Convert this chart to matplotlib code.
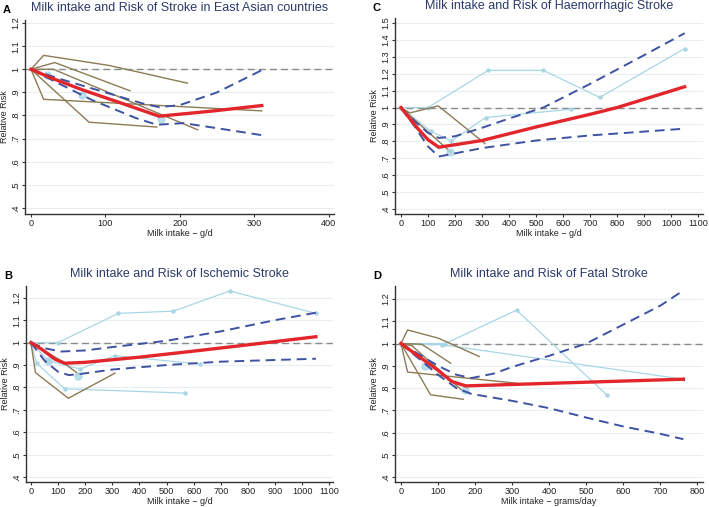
import matplotlib
matplotlib.use('Agg')
import matplotlib.pyplot as plt
import numpy as np

plt.rcParams['font.family'] = ['Liberation Sans', 'DejaVu Sans']

RED = '#e3262b'
NAVY = '#3d52a1'
BROWN = '#8c7b55'
LBLUE = '#a9d6e5'
TITLE = '#2b3a6b'
W, H = 709, 507

# ---- panel A: East Asian countries ----
a_fit_x = [0, 25, 70, 120, 172, 240, 310]
a_fit_y = [1.0, 0.965, 0.91, 0.855, 0.797, 0.818, 0.843]
a_up_x = [0, 37, 104, 150, 172, 200, 250, 310]
a_up_y = [1.0, 0.96, 0.896, 0.852, 0.836, 0.845, 0.9, 0.996]
a_lo_x = [0, 37, 82, 140, 169, 205, 250, 310]
a_lo_y = [1.0, 0.939, 0.867, 0.79, 0.76, 0.767, 0.745, 0.715]
a_studies = [
    ([0, 17, 104, 210], [1.0, 1.06, 1.017, 0.94]),
    ([0, 32, 133], [1.0, 1.029, 0.907]),
    ([0, 17, 310], [1.0, 0.87, 0.82]),
    ([0, 78, 169], [1.0, 0.771, 0.75]),
    ([0, 30, 224], [1.0, 1.0, 0.738]),
]
a_pts_x = [21, 69, 174]
a_pts_y = [0.974, 0.888, 0.785]

# ---- panel B: ischemic stroke ----
b_fit_x = [0, 40, 90, 125, 200, 400, 600, 800, 1050]
b_fit_y = [1.0, 0.97, 0.925, 0.908, 0.912, 0.935, 0.962, 0.99, 1.026]
b_up_x = [0, 50, 110, 200, 300, 500, 700, 900, 1050]
b_up_y = [1.0, 0.975, 0.96, 0.965, 0.98, 1.008, 1.05, 1.1, 1.133]
b_lo_x = [0, 50, 100, 140, 200, 300, 500, 700, 1050]
b_lo_y = [1.0, 0.92, 0.87, 0.855, 0.863, 0.88, 0.9, 0.915, 0.928]
b_studies = [
    ([0, 17, 138, 310], [1.0, 0.866, 0.752, 0.864]),
    ([0, 110, 175], [1.0, 0.92, 0.86]),
]
b_light = [
    ([0, 100, 322, 525, 733, 1050], [1.0, 1.0, 1.13, 1.14, 1.23, 1.13]),
    ([0, 64, 181, 310, 623], [1.0, 0.919, 0.882, 0.942, 0.904]),
    ([0, 21, 125, 568], [1.0, 0.908, 0.794, 0.775]),
]
b_pts_x = [64, 174]
b_pts_y = [0.919, 0.853]

# ---- panel C: haemorrhagic stroke ----
c_fit_x = [0, 30, 60, 100, 140, 300, 500, 700, 800, 1050]
c_fit_y = [1.0, 0.94, 0.88, 0.81, 0.765, 0.805, 0.885, 0.96, 1.0, 1.123]
c_up_x = [0, 50, 100, 140, 200, 300, 400, 527, 700, 900, 1050]
c_up_y = [1.0, 0.92, 0.85, 0.82, 0.83, 0.88, 0.935, 1.0, 1.14, 1.31, 1.44]
c_lo_x = [0, 50, 100, 140, 300, 500, 700, 1050]
c_lo_y = [1.0, 0.89, 0.77, 0.71, 0.76, 0.805, 0.835, 0.875]
c_studies = [
    ([0, 33, 138, 311], [1.0, 0.968, 1.01, 0.787]),
    ([0, 185], [1.0, 0.735]),
]
c_light = [
    ([0, 100, 323, 527, 736, 1050], [1.0, 1.0, 1.22, 1.22, 1.06, 1.349]),
    ([0, 110, 187, 313, 629], [1.0, 0.86, 0.802, 0.941, 0.99]),
]
c_pts_x = [181]
c_pts_y = [0.737]

# ---- panel D: fatal stroke ----
d_fit_x = [0, 50, 100, 137, 175, 762]
d_fit_y = [1.0, 0.94, 0.88, 0.83, 0.81, 0.84]
d_up_x = [0, 50, 100, 150, 190, 250, 300, 400, 500, 600, 700, 762]
d_up_y = [1.0, 0.95, 0.9, 0.86, 0.845, 0.865, 0.895, 0.945, 1.0, 1.085, 1.17, 1.238]
d_lo_x = [0, 50, 100, 150, 190, 300, 400, 500, 600, 700, 762]
d_lo_y = [1.0, 0.93, 0.86, 0.8, 0.774, 0.743, 0.71, 0.668, 0.628, 0.595, 0.571]
d_studies = [
    ([0, 18, 101, 211], [1.0, 1.061, 1.024, 0.942]),
    ([0, 56, 134], [1.0, 0.997, 0.912]),
    ([0, 18, 312], [1.0, 0.872, 0.822]),
    ([0, 80, 168], [1.0, 0.77, 0.75]),
    ([0, 30, 168], [1.0, 0.99, 0.785]),
]
d_light = [
    ([0, 120, 312, 555], [1.0, 1.0, 1.15, 0.77]),
    ([0, 110, 762], [1.0, 0.995, 0.84]),
]
d_pts_x = [65, 173]
d_pts_y = [0.897, 0.79]

fig = plt.figure(figsize=(7.09, 5.07), dpi=100)


def panel(box, letter, title, xlabel, xlim, ylim, xticks, yticks,
          fit, up, lo, studies, light, pts):
    # box = left, top, right, bottom in pixels
    l, t, r, b = box
    ax = fig.add_axes([l / W, 1 - b / H, (r - l) / W, (b - t) / H])
    for yt in yticks:
        ax.axhline(yt, color='#e8eef2', lw=0.8, zorder=0)
    ax.axhline(1.0, color='#8a8a8a', lw=1.0, ls=(0, (5, 3)), zorder=1)
    for sx, sy in light:
        ax.plot(sx, sy, color=LBLUE, lw=0.9, marker='o', ms=2.2, zorder=2)
    for sx, sy in studies:
        ax.plot(sx, sy, color=BROWN, lw=1.0, zorder=2)
    ax.plot(pts[0], pts[1], 'o', color=LBLUE, ms=5, alpha=0.8, zorder=2)
    ax.plot(up[0], up[1], color=NAVY, lw=1.4, ls=(0, (5, 3)), zorder=3)
    ax.plot(lo[0], lo[1], color=NAVY, lw=1.4, ls=(0, (5, 3)), zorder=3)
    ax.plot(fit[0], fit[1], color=RED, lw=2.4, zorder=4)
    ax.set_xlim(*xlim)
    ax.set_ylim(*ylim)
    ax.set_xticks(xticks)
    ax.set_yticks(yticks)
    labs = []
    for v in yticks:
        s = ('%.1f' % v)
        if s.endswith('.0'):
            s = s[:-2]
        if s.startswith('0'):
            s = s[1:]
        labs.append(s)
    ax.set_yticklabels(labs, rotation=90, va='center')
    for sp in ['top', 'right']:
        ax.spines[sp].set_visible(False)
    for sp in ['left', 'bottom']:
        ax.spines[sp].set_color('#333333')
        ax.spines[sp].set_linewidth(1.0)
    ax.tick_params(length=2.5, width=0.8, color='#333333', labelsize=6.6,
                   labelcolor='#222222', pad=1.2)
    ax.set_facecolor('white')
    cx = (l + r) / 2
    fig.text(cx / W, 1 - (b + 20) / H, xlabel, fontsize=6.5, color='#222222',
             ha='center', va='center')
    fig.text((l - 20) / W, 1 - ((t + b) / 2) / H, 'Relative Risk', fontsize=6.5,
             color='#222222', rotation=90, ha='center', va='center')
    fig.text(cx / W, 1 - (t - 12) / H, title, fontsize=9, color=TITLE,
             ha='center', va='center')
    fig.text((l - 18) / W, 1 - (t - 10) / H, letter, fontsize=8,
             fontweight='bold', ha='center', va='center', color='black')
    return ax


panel((25, 20, 334, 214), 'A',
      'Milk intake and Risk of Stroke in East Asian countries',
      'Milk intake \u2212 g/d', (-8, 407), (0.374, 1.213),
      np.arange(0, 401, 100), np.arange(0.4, 1.21, 0.1),
      (a_fit_x, a_fit_y), (a_up_x, a_up_y), (a_lo_x, a_lo_y),
      a_studies, [], (a_pts_x, a_pts_y))
panel((395, 18, 703, 214), 'C',
      'Milk intake and Risk of Haemorrhagic Stroke',
      'Milk intake \u2212 g/d', (-22, 1118), (0.37, 1.53),
      np.arange(0, 1101, 100), np.arange(0.4, 1.51, 0.1),
      (c_fit_x, c_fit_y), (c_up_x, c_up_y), (c_lo_x, c_lo_y),
      c_studies, c_light, (c_pts_x, c_pts_y))
panel((26, 286, 333, 482), 'B',
      'Milk intake and Risk of Ischemic Stroke',
      'Milk intake \u2212 g/d', (-18, 1113), (0.379, 1.252),
      np.arange(0, 1101, 100), np.arange(0.4, 1.21, 0.1),
      (b_fit_x, b_fit_y), (b_up_x, b_up_y), (b_lo_x, b_lo_y),
      b_studies, b_light, (b_pts_x, b_pts_y))
panel((395, 286, 703, 482), 'D',
      'Milk intake and Risk of Fatal Stroke',
      'Milk intake \u2212 grams/day', (-16, 815), (0.379, 1.258),
      np.arange(0, 801, 100), np.arange(0.4, 1.21, 0.1),
      (d_fit_x, d_fit_y), (d_up_x, d_up_y), (d_lo_x, d_lo_y),
      d_studies, d_light, (d_pts_x, d_pts_y))

fig.savefig('out.png', dpi=100, facecolor='white')
